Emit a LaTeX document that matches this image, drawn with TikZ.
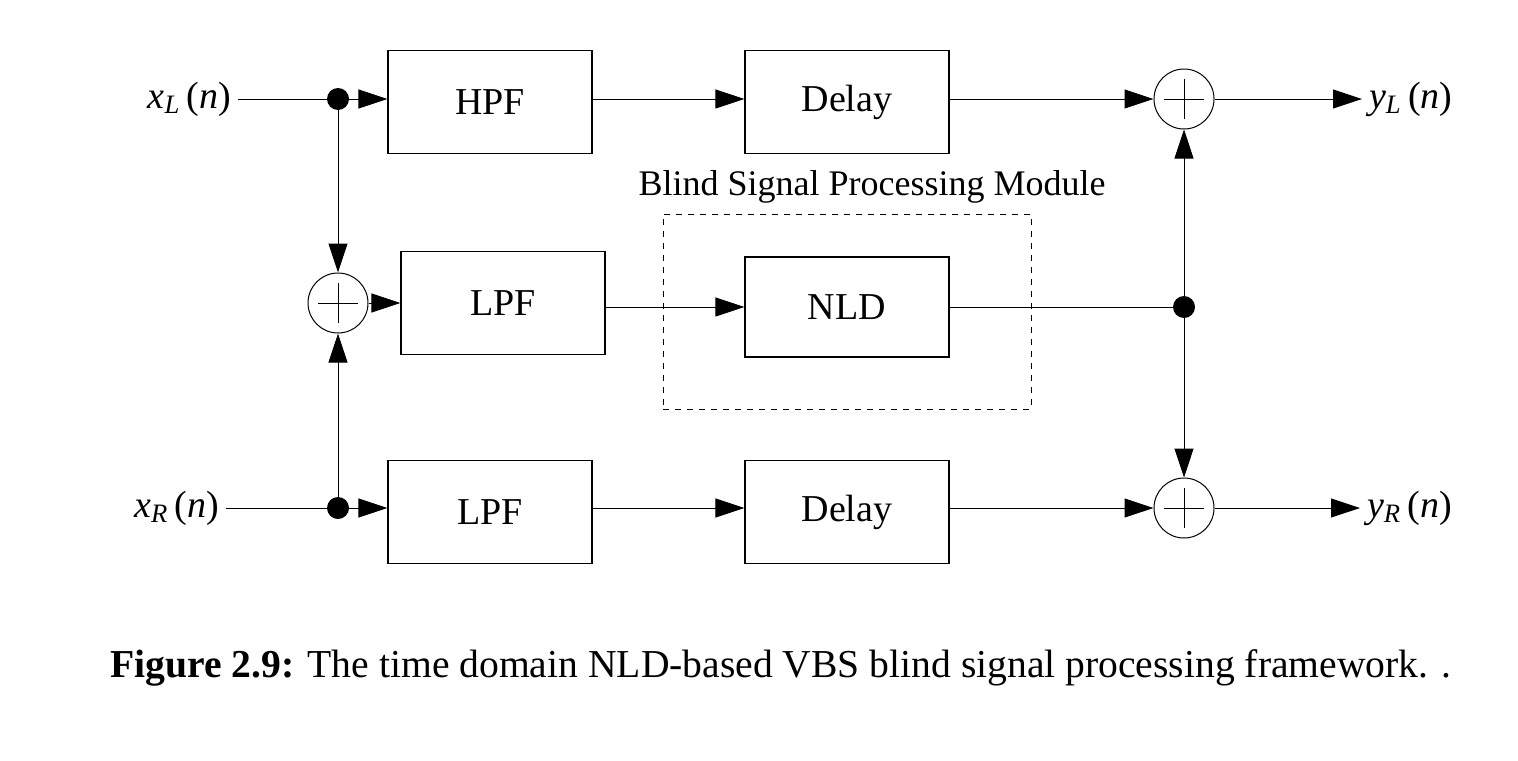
\documentclass[tikz,border=0pt]{standalone}
\usepackage{fontspec}
\setmainfont{Liberation Serif}
\usetikzlibrary{arrows.meta}
\newcommand{\sig}[2]{\textit{#1}\textsubscript{\textit{#2}}\,(\textit{n})}
\begin{document}
\begin{tikzpicture}[x=0.5pt,y=-0.5pt,
    font=\fontsize{19pt}{22pt}\selectfont,
    >={Triangle[length=14.5pt,width=9.5pt]},
    wire/.style={line width=0.5pt},
    block/.style={draw,line width=0.6pt,minimum width=102pt,minimum height=51.5pt,inner sep=0pt},
    junction/.style={circle,fill,minimum size=11pt,inner sep=0pt},
    adder/.style={circle,draw,line width=0.5pt,minimum size=30pt,inner sep=0pt,
        path picture={
            \draw[line width=0.4pt] ([xshift=-10pt]path picture bounding box.center) -- ([xshift=10pt]path picture bounding box.center);
            \draw[line width=0.4pt] ([yshift=-10pt]path picture bounding box.center) -- ([yshift=10pt]path picture bounding box.center);
        }}]
    \useasboundingbox (0,0) rectangle (1518,760);

    % Left channel input
    \node[anchor=east] (xL) at (238,99) {\sig{x}{L}};
    \node[junction] (dotL) at (338,99) {};
    \node[block] (hpf) at (490,102) {HPF};
    \node[block] (delayT) at (847,102) {Delay};
    \node[adder] (sumTR) at (1184,99) {};
    \node[anchor=west] (yL) at (1362,99) {\sig{y}{L}};

    % Mono sum, low pass and NLD
    \node[adder] (sumM) at (338,303) {};
    \node[block] (lpfM) at (503,303) {LPF};
    \node[block,minimum height=50pt] (nld) at (847,307) {NLD};
    \node[draw,dashed,line width=0.5pt,minimum width=184pt,minimum height=97.5pt,inner sep=0pt] (bspm) at (847,311.5) {};
    \node[anchor=south,inner sep=0pt,font=\fontsize{18pt}{21pt}\selectfont] (bspmlabel) at (872,204) {Blind Signal Processing Module};
    \node[junction] (dotM) at (1184,307) {};

    % Right channel input
    \node[anchor=east] (xR) at (226,508) {\sig{x}{R}};
    \node[junction] (dotR) at (338,508) {};
    \node[block] (lpfB) at (490,512) {LPF};
    \node[block] (delayB) at (847,512) {Delay};
    \node[adder] (sumBR) at (1184,508) {};
    \node[anchor=west] (yR) at (1360,508) {\sig{y}{R}};

    % Caption
    \node[font=\fontsize{19.8pt}{24pt}\selectfont] (caption) at (781,668) {\textbf{Figure 2.9:} The time domain NLD-based VBS blind signal processing framework. .};

    % Top path
    \draw[wire] (xL) -- (dotL);
    \draw[wire,->] (dotL) -- (dotL -| hpf.west);
    \draw[wire,->] (hpf.east |- dotL) -- (delayT.west |- dotL);
    \draw[wire,->] (delayT.east |- dotL) -- (sumTR);
    \draw[wire,->] (sumTR) -- (yL);

    % Middle path
    \draw[wire,->] (dotL) -- (sumM);
    \draw[wire,->] (dotR) -- (sumM);
    \draw[wire,->] (sumM) -- (lpfM);
    \draw[wire,->] (lpfM.east |- nld) -- (nld);
    \draw[wire] (nld) -- (dotM);
    \draw[wire,->] (dotM) -- (sumTR);
    \draw[wire,->] (dotM) -- (sumBR);

    % Bottom path
    \draw[wire] (xR) -- (dotR);
    \draw[wire,->] (dotR) -- (dotR -| lpfB.west);
    \draw[wire,->] (lpfB.east |- dotR) -- (delayB.west |- dotR);
    \draw[wire,->] (delayB.east |- dotR) -- (sumBR);
    \draw[wire,->] (sumBR) -- (yR);
\end{tikzpicture}
\end{document}
